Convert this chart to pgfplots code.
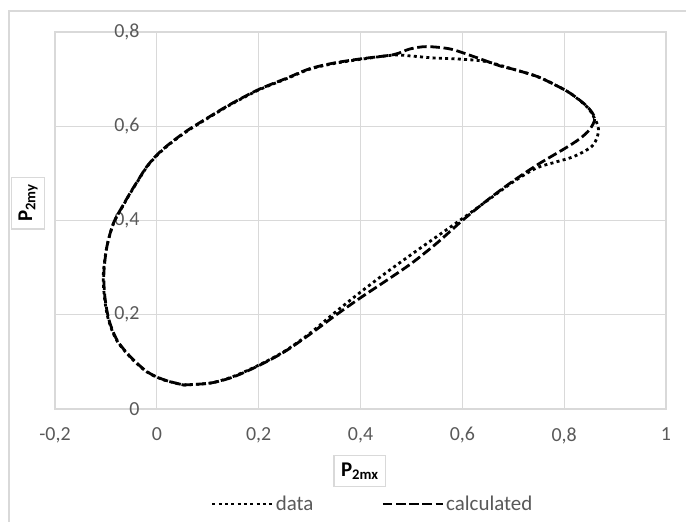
\documentclass[border=0pt]{standalone}
\usepackage{pgfplots}
\pgfplotsset{compat=1.18}
\usepackage{fontspec}
\setmainfont{Carlito}
\definecolor{gridgray}{HTML}{D9D9D9}
\definecolor{labgray}{HTML}{595959}

% measured loop (dotted)
\pgfplotstableread{
x y
0.052 0.051
0.105 0.055
0.150 0.069
0.200 0.093
0.25 0.122
0.30 0.160
0.35 0.205
0.40 0.248
0.45 0.289
0.50 0.328
0.55 0.366
0.60 0.404
0.65 0.443
0.70 0.482
0.745 0.511
0.78 0.523
0.812 0.533
0.835 0.544
0.855 0.558
0.865 0.577
0.867 0.598
0.858 0.620
0.845 0.641
0.812 0.670
0.78 0.689
0.746 0.706
0.70 0.721
0.648 0.737
0.602 0.742
0.543 0.745
0.50 0.749
0.465 0.751
0.40 0.742
0.347 0.733
0.30 0.721
0.255 0.701
0.20 0.677
0.145 0.646
0.10 0.617
0.06 0.590
0.025 0.562
0.00 0.538
-0.02 0.513
-0.036 0.486
-0.051 0.460
-0.066 0.432
-0.085 0.394
-0.098 0.345
-0.105 0.288
-0.103 0.238
-0.095 0.189
-0.079 0.146
-0.053 0.111
-0.020 0.079
0.013 0.062
0.052 0.051
}\measured

% calculated loop (dashed)
\pgfplotstableread{
x y
0.052 0.051
0.105 0.055
0.150 0.068
0.200 0.092
0.25 0.121
0.30 0.158
0.35 0.198
0.40 0.236
0.45 0.272
0.50 0.309
0.55 0.352
0.60 0.400
0.65 0.444
0.70 0.484
0.75 0.520
0.80 0.552
0.83 0.573
0.85 0.593
0.860 0.617
0.845 0.642
0.812 0.670
0.78 0.689
0.746 0.706
0.70 0.721
0.674 0.728
0.622 0.748
0.576 0.764
0.530 0.769
0.497 0.764
0.465 0.752
0.40 0.743
0.347 0.734
0.30 0.722
0.255 0.702
0.20 0.678
0.145 0.647
0.10 0.618
0.06 0.591
0.025 0.563
0.00 0.539
-0.02 0.514
-0.036 0.487
-0.051 0.461
-0.066 0.433
-0.085 0.395
-0.098 0.345
-0.104 0.288
-0.102 0.238
-0.094 0.189
-0.078 0.146
-0.052 0.111
-0.019 0.079
0.014 0.062
0.052 0.051
}\calc

\begin{document}
\begin{tikzpicture}
% chart frame (only top and left edge visible)
\draw[gridgray, line width=1.5bp] (9bp,-20bp) -- (9bp,511bp) -- (720bp,511bp);
\begin{axis}[
    at={(55bp,113bp)}, anchor=south west,
    scale only axis, width=611bp, height=377bp,
    xmin=-0.2, xmax=1, ymin=0, ymax=0.8,
    xtick={-0.2,0,0.2,0.4,0.6,0.8,1},
    ytick={0,0.2,0.4,0.6,0.8},
    grid=major, major grid style={gridgray, line width=1.3bp},
    axis line style={gridgray, line width=1.3bp},
    major tick length=0pt,
    /pgf/number format/fixed, /pgf/number format/precision=1,
    /pgf/number format/use comma, /pgf/number format/assume math mode=true,
    tick label style={font=\fontsize{20}{24}\selectfont, text=labgray},
    xticklabel style={yshift=-15bp},
    yticklabel style={anchor=east, xshift=88bp},
    xlabel={\textbf{P}\textsubscript{\textbf{2mx}}},
    ylabel={\textbf{P}\textsubscript{\textbf{2my}}},
    label style={font=\fontsize{21}{25}\selectfont, draw=gridgray, line width=1.3bp, fill=white, inner sep=7bp},
    xlabel style={at={(axis description cs:0.499,-0.164)}, anchor=center},
    ylabel style={at={(axis description cs:-0.044,0.546)}, anchor=center},
    legend style={at={(axis description cs:0.52,-0.252)}, anchor=center, draw=none,
        legend columns=2, font=\fontsize{21}{25}\selectfont, text=labgray,
        /tikz/every even column/.append style={column sep=66bp}},
    legend image code/.code={\draw[#1] (0bp,0bp) -- (60bp,0bp);},
]
\addplot[smooth, black, line width=2.8bp, dash pattern=on 3bp off 3.3bp] table[x=x,y=y] {\measured};
\addlegendentry{data}
\addplot[smooth, black, line width=2.8bp, dash pattern=on 9.5bp off 3.7bp] table[x=x,y=y] {\calc};
\addlegendentry{calculated}
\end{axis}
\pgfresetboundingbox
\useasboundingbox (0,0) rectangle (686bp,522bp);
\end{tikzpicture}
\end{document}
